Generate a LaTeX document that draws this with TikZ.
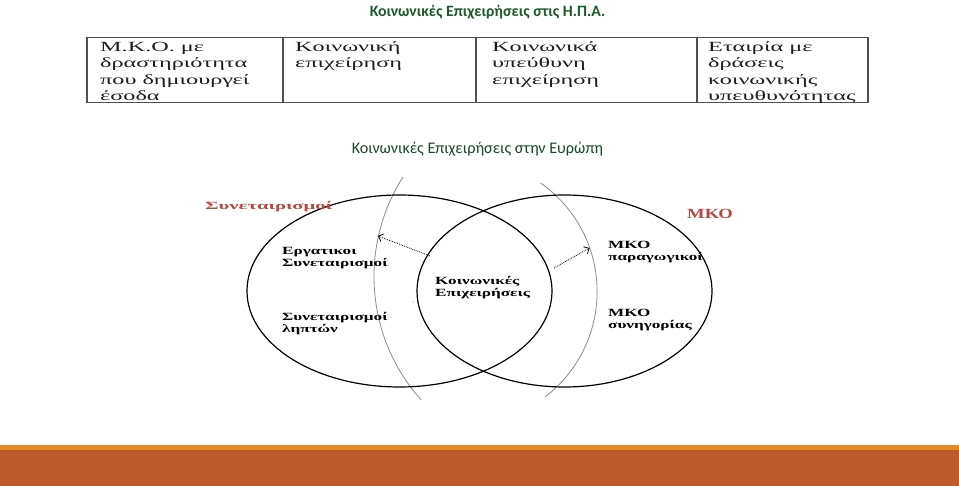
\documentclass[tikz,border=0pt]{standalone}
\usepackage{fontspec}
\setmainfont{Liberation Serif}
\newfontfamily\titlefont{Carlito}
\newfontfamily\tabfont[FakeStretch=1.73]{Liberation Serif}
\newfontfamily\vennfont[FakeStretch=1.56]{Liberation Serif}
\newfontfamily\redfont[FakeStretch=1.88]{Liberation Serif}
\newfontfamily\mkofont[FakeStretch=1.33]{Liberation Serif}
\usetikzlibrary{arrows.meta}
\definecolor{titlegreen}{RGB}{28,92,44}
\definecolor{subgreen}{RGB}{26,74,38}
\definecolor{redlab}{RGB}{184,72,66}
\definecolor{tabtext}{RGB}{30,30,30}
\definecolor{tabline}{RGB}{80,80,80}
\definecolor{arcgray}{RGB}{140,140,140}
\definecolor{bandorange}{RGB}{228,138,32}
\definecolor{bandbrown}{RGB}{190,89,45}
\tikzset{
  title1/.style={anchor=base, inner sep=0, text=titlegreen, font=\titlefont\bfseries\fontsize{15.8}{18}\selectfont},
  title2/.style={anchor=base, inner sep=0, text=subgreen, font=\titlefont\fontsize{16.2}{19}\selectfont},
  celltext/.style={anchor=base west, inner sep=0, align=left, text=tabtext, font=\tabfont\fontsize{14}{16.2}\selectfont},
  tableline/.style={draw=tabline, line width=1.1pt},
  vennline/.style={draw=black, line width=1.2pt},
  arcline/.style={draw=arcgray, line width=0.8pt},
  vennlab/.style={anchor=base west, inner sep=0, align=left, font=\vennfont\bfseries\fontsize{11}{12}\selectfont},
  redlabel/.style={anchor=base west, inner sep=0, text=redlab, font=\redfont\bfseries\fontsize{11}{12}\selectfont},
  redbig/.style={anchor=base west, inner sep=0, text=redlab, font=\mkofont\bfseries\fontsize{14}{16}\selectfont},
  dotarrow/.style={densely dotted, line width=0.8pt, -{Straight Barb[length=4pt,width=8pt]}}
}
\begin{document}
\begin{tikzpicture}[x=1pt,y=-1pt]
\useasboundingbox (0,0) rectangle (959,486);
\fill[white] (0,0) rectangle (959,486);
% titles
\node[title1] (t1) at (487.5,16.7) {Κοινωνικές Επιχειρήσεις στις Η.Π.Α.};
\node[title2] (t2) at (477.5,154) {Κοινωνικές Επιχειρήσεις στην Ευρώπη};
% table (multi-line nodes are anchored at the baseline of their last line)
\draw[tableline] (87,37.5) rectangle (868,102.5);
\draw[tableline] (283,37.5) -- (283,102.5);
\draw[tableline] (476,37.5) -- (476,102.5);
\draw[tableline] (697,37.5) -- (697,102.5);
\node[celltext] (c1) at (100,100.3) {Μ.Κ.Ο. με\\δραστηριότητα\\που δημιουργεί\\έσοδα};
\node[celltext] (c2) at (295,67.9) {Κοινωνική\\επιχείρηση};
\node[celltext] (c3) at (492,84.1) {Κοινωνικά\\υπεύθυνη\\επιχείρηση};
\node[celltext] (c4) at (708,100.3) {Εταιρία με\\δράσεις\\κοινωνικής\\υπευθυνότητας};
% grey arcs
\begin{scope}
  \clip (300,178) rectangle (450,400);
  \draw[arcline] (559,276.5) circle [radius=185];
\end{scope}
\begin{scope}
  \clip (520,184) rectangle (640,397);
  \draw[arcline] (464.5,291.6) circle [radius=132.6];
\end{scope}
% ellipses
\draw[vennline] (399.5,291) ellipse [x radius=152.5, y radius=96];
\draw[vennline] (564.5,291) ellipse [x radius=147.5, y radius=96];
\fill[arcgray] (413,302) circle [radius=0.6];
% arrows
\coordinate (a1s) at (430,256);
\coordinate (a1e) at (378,236);
\coordinate (a2s) at (554,268);
\coordinate (a2e) at (589.5,248);
\draw[dotarrow] (a1s) -- (a1e);
\draw[dotarrow] (a2s) -- (a2e);
% labels
\node[redlabel] (r1) at (205,210) {Συνεταιρισμοί};
\node[redbig] (r2) at (687,219) {ΜΚΟ};
\node[vennlab] (l1) at (282,267) {Εργατικοι\\Συνεταιρισμοί};
\node[vennlab] (l2) at (282,333) {Συνεταιρισμοί\\ληπτών};
\node[vennlab] (l3) at (435,296.5) {Κοινωνικές\\Επιχειρήσεις};
\node[vennlab] (l4) at (608,261) {ΜΚΟ\\παραγωγικοί};
\node[vennlab] (l5) at (608,328.5) {ΜΚΟ\\συνηγορίας};
% bottom bands
\fill[bandorange] (0,445) rectangle (959,450);
\fill[bandbrown] (0,450) rectangle (959,486);
\end{tikzpicture}
\end{document}
